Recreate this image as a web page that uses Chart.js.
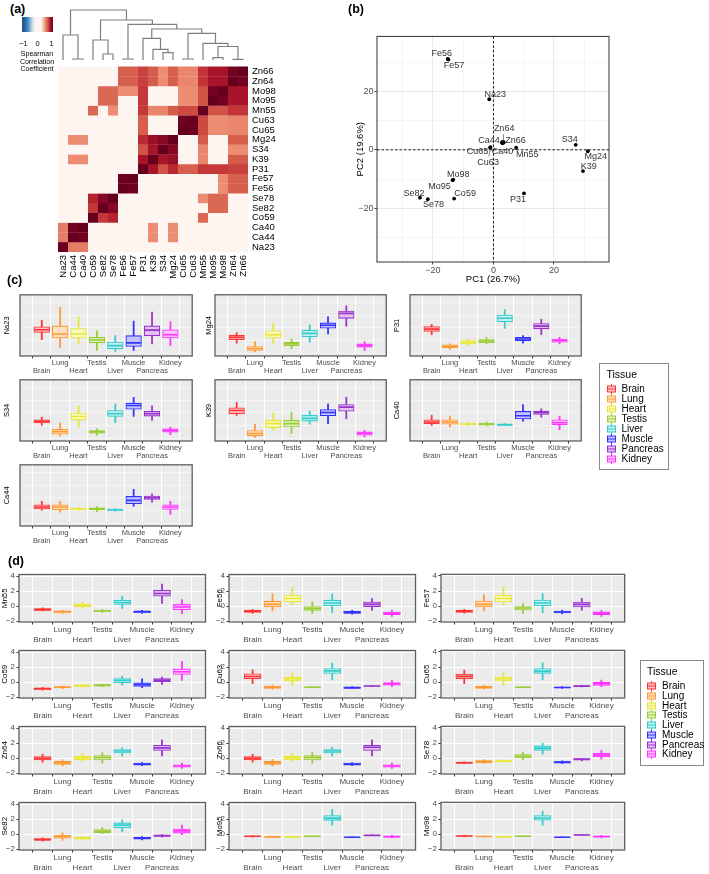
<!DOCTYPE html>
<html>
<head>
<meta charset="utf-8">
<title>Element correlations, PCA and tissue profiles</title>
<script src="https://cdn.jsdelivr.net/npm/chart.js@4.4.1/dist/chart.umd.min.js"></script>
<style>
  html, body { margin: 0; padding: 0; background: #fff; }
  #wrap { position: relative; width: 709px; height: 874px; overflow: hidden; font-family: "Liberation Sans", Arial, sans-serif; color: #000; }
  #wrap canvas { position: absolute; }
  .tag { position: absolute; font-weight: bold; font-size: 12.5px; line-height: 1; }
  .txt { position: absolute; white-space: nowrap; line-height: 1; transform: translate(-50%, -50%); }
  .scalebar { position: absolute; left: 22px; top: 17px; width: 31px; height: 15px;
    background: linear-gradient(to right, #1F4E8C 0%, #2E6BAA 12%, #5A9BCB 22%, #BCD8EA 32%, #FDF5F2 42%, #FFF5F0 62%, #F2A98E 72%, #D6604D 82%, #A3142E 92%, #67001F 100%); }
  .legend { position: absolute; border: 1.3px solid #8a8a8a; box-sizing: border-box; background: #fff; }
  .legend .row { position: absolute; white-space: nowrap; line-height: 1; transform: translateY(-50%); }
  .legend svg { position: absolute; }
</style>
</head>
<body>
<div id="wrap">
  <div class="tag" style="left:10px;top:3px">(a)</div>
  <div class="tag" style="left:348px;top:3px">(b)</div>
  <div class="tag" style="left:7px;top:274px">(c)</div>
  <div class="tag" style="left:8px;top:555px">(d)</div>
  <div class="scalebar"></div>
  <div class="txt" style="left:23.5px;top:44px;font-size:7.5px">&minus;1</div>
  <div class="txt" style="left:37.5px;top:44px;font-size:7.5px">0</div>
  <div class="txt" style="left:51.5px;top:44px;font-size:7.5px">1</div>
  <div class="txt" style="left:37px;top:53px;font-size:7px">Spearman</div>
  <div class="txt" style="left:37px;top:60.5px;font-size:7px">Correlation</div>
  <div class="txt" style="left:37px;top:68px;font-size:7px">Coefficient</div>
</div>
<script>
// ---------- data ----------
const elements = ['Na23','Ca44','Ca40','Co59','Se82','Se78','Fe56','Fe57','P31','K39','S34','Mg24','Cu65','Cu63','Mn55','Mo95','Mo98','Zn64','Zn66'];

// Spearman correlations (non-significant shown as 0), rows/cols in element order
const corr = [
  [1,.55,.55,0,0,0,0,0,0,0,0,0,0,0,0,0,0,0,0],
  [.55,1,.97,0,0,0,0,0,0,.5,0,.5,0,0,0,0,0,0,0],
  [.55,.97,1,0,0,0,0,0,0,.5,0,.5,0,0,0,0,0,0,0],
  [0,0,0,1,.74,.8,0,0,0,0,0,0,0,0,.62,0,0,0,0],
  [0,0,0,.74,1,.92,0,0,0,0,0,0,0,0,0,.62,.62,0,0],
  [0,0,0,.8,.92,1,0,0,0,0,0,0,0,0,.5,.62,.62,0,0],
  [0,0,0,0,0,0,1,.98,0,0,0,0,0,0,0,0,.5,.65,.65],
  [0,0,0,0,0,0,.98,1,0,0,0,0,0,0,0,0,.5,.65,.65],
  [0,0,0,0,0,0,0,0,1,.85,.68,.78,.65,.65,.74,.74,.74,.72,.72],
  [0,.5,.5,0,0,0,0,0,.85,1,.85,.88,0,0,.52,0,0,.66,.66],
  [0,0,0,0,0,0,0,0,.68,.85,1,.92,0,0,.52,0,0,.5,.5],
  [0,.5,.5,0,0,0,0,0,.78,.88,.92,1,0,0,.66,0,0,.65,.65],
  [0,0,0,0,0,0,0,0,.65,0,0,0,1,.98,.7,.5,.5,.52,.52],
  [0,0,0,0,0,0,0,0,.65,0,0,0,.98,1,.7,.5,.5,.52,.52],
  [0,0,0,.62,0,.5,0,0,.74,.52,.52,.66,.7,.7,1,.68,.68,.75,.75],
  [0,0,0,0,.62,.62,0,0,.74,0,0,0,.5,.5,.68,1,.97,.85,.85],
  [0,0,0,0,.62,.62,.5,.5,.74,0,0,0,.5,.5,.68,.97,1,.85,.85],
  [0,0,0,0,0,0,.65,.65,.72,.66,.5,.65,.52,.52,.75,.85,.85,1,.97],
  [0,0,0,0,0,0,.65,.65,.72,.66,.5,.65,.52,.52,.75,.85,.85,.97,1]
];

// dendrogram merges, hclust style: negative = leaf (-(index+1)), positive = earlier merge; last = height
const merges = [
  [-2,-3,0.02],[-1,1,0.50],[-5,-6,0.12],[-4,3,0.40],[-7,-8,0.02],
  [-11,-12,0.147],[-10,6,0.213],[-9,7,0.433],[-13,-14,0.02],[-16,-17,0.047],
  [-18,-19,0.013],[10,11,0.27],[-15,12,0.333],[9,13,0.533],[8,14,0.62],
  [5,15,0.713],[4,16,0.80],[2,17,1.0]
];

// PCA scores
const pcaNames = ['Na23','Ca44','Ca40','Co59','Se82','Se78','Fe56','Fe57','P31','K39','S34','Mg24','Cu65','Cu63','Mn55','Mo95','Mo98','Zn64','Zn66'];
const pc1 = [-1.4, 2.8, 3.0, -13.0, -24.3, -21.7, -15.1, -14.9, 10.1, 29.6, 27.2, 31.2, -1.0, -1.1, 7.5, -13.5, -13.3, 3.2, 3.4];
const pc2 = [17.3, 2.5, 2.2, -16.7, -16.4, -16.9, 31.1, 30.9, -14.9, -7.3, 1.7, -0.5, 0.9, 0.7, 0.7, -10.4, -10.2, 2.8, 2.5];

// box statistics per tissue: [lower whisker, Q1, median, Q3, upper whisker]
const tissues = ['Brain','Lung','Heart','Testis','Liver','Muscle','Pancreas','Kidney'];
const Na23 = [[-0.41,0.15,0.36,0.59,1.09],[-1.04,-0.28,0.03,0.66,2.1],[-0.74,-0.28,0.03,0.46,1.35],[-1.25,-0.66,-0.43,-0.23,0.28],[-1.32,-1.12,-0.87,-0.59,-0.1],[-1.25,-0.94,-0.66,-0.1,1.04],[-0.74,-0.1,0.33,0.66,1.73],[-0.87,-0.28,-0.03,0.36,1.0]];
const Mg24 = [[-0.69,-0.41,-0.23,-0.08,0.15],[-1.37,-1.25,-1.12,-0.94,-0.56],[-0.69,-0.28,-0.03,0.28,0.87],[-1.12,-0.89,-0.74,-0.61,-0.36],[-0.61,-0.18,0.08,0.33,0.74],[0.03,0.48,0.71,0.89,1.37],[0.64,1.25,1.63,1.81,2.21],[-1.25,-0.99,-0.87,-0.74,-0.56]];
const P31 = [[-0.03,0.23,0.41,0.61,0.79],[-1.17,-1.04,-0.92,-0.81,-0.74],[-0.89,-0.74,-0.61,-0.48,-0.36],[-0.74,-0.64,-0.51,-0.41,-0.23],[0.46,0.99,1.25,1.5,1.93],[-0.69,-0.48,-0.36,-0.23,-0.1],[-0.03,0.43,0.64,0.84,1.17],[-0.74,-0.61,-0.48,-0.36,-0.23]];
const S34 = [[-0.46,-0.28,-0.15,-0.03,0.18],[-1.31,-1.15,-0.95,-0.77,-0.28],[-0.59,-0.03,0.23,0.49,1.08],[-1.23,-1.08,-0.97,-0.87,-0.72],[-0.26,0.23,0.44,0.69,1.21],[0.23,0.79,1.08,1.26,1.72],[-0.08,0.26,0.44,0.62,1.05],[-1.18,-1.0,-0.87,-0.74,-0.59]];
const K39 = [[0.31,0.44,0.69,0.9,1.33],[-1.41,-1.28,-1.1,-0.87,-0.38],[-0.85,-0.64,-0.33,-0.08,0.49],[-1.1,-0.59,-0.33,-0.08,0.54],[-0.38,-0.13,0.08,0.31,0.64],[-0.33,0.28,0.54,0.77,1.21],[0.05,0.64,0.95,1.15,1.72],[-1.36,-1.23,-1.1,-0.97,-0.85]];
const Ca40 = [[-0.46,-0.33,-0.2,-0.03,0.31],[-0.59,-0.38,-0.2,-0.03,0.26],[-0.46,-0.41,-0.36,-0.28,-0.2],[-0.51,-0.44,-0.36,-0.28,-0.2],[-0.49,-0.46,-0.41,-0.38,-0.33],[-0.13,0.03,0.28,0.62,1.15],[0.18,0.38,0.51,0.64,0.82],[-0.79,-0.41,-0.26,-0.03,0.23]];
const Ca44 = [[-0.47,-0.36,-0.2,-0.03,0.23],[-0.6,-0.42,-0.2,-0.03,0.23],[-0.47,-0.42,-0.34,-0.3,-0.2],[-0.57,-0.42,-0.34,-0.26,-0.16],[-0.52,-0.49,-0.42,-0.36,-0.34],[-0.16,0.05,0.31,0.62,1.17],[0.18,0.39,0.52,0.65,0.83],[-0.78,-0.39,-0.2,-0.03,0.23]];
const Mn55 = [[-0.66,-0.57,-0.48,-0.35,-0.22],[-0.97,-0.88,-0.75,-0.66,-0.57],[-0.31,-0.13,0.09,0.31,0.53],[-0.84,-0.75,-0.66,-0.53,-0.44],[-0.31,0.22,0.48,0.79,1.32],[-0.97,-0.88,-0.75,-0.66,-0.57],[0.35,1.32,1.67,2.11,2.95],[-1.01,-0.48,-0.13,0.22,0.88]];
const Fe56 = [[-0.97,-0.84,-0.7,-0.57,-0.44],[-0.66,-0.13,0.22,0.66,1.63],[0.13,0.57,1.01,1.45,2.55],[-0.97,-0.57,-0.31,0,0.53],[-0.88,0.04,0.4,0.79,1.63],[-1.1,-0.97,-0.84,-0.7,-0.57],[-0.57,-0.09,0.22,0.53,1.01],[-1.37,-1.15,-0.97,-0.79,-0.57]];
const Fe57 = [[-0.97,-0.84,-0.7,-0.57,-0.44],[-0.66,-0.13,0.22,0.66,1.54],[0.13,0.53,1.01,1.45,2.55],[-0.97,-0.53,-0.26,0,0.35],[-0.88,0.04,0.4,0.79,1.67],[-1.06,-0.93,-0.79,-0.66,-0.53],[-0.57,-0.13,0.22,0.53,1.01],[-1.37,-1.15,-0.97,-0.79,-0.57]];
const Co59 = [[-1.1,-1.01,-0.88,-0.79,-0.7],[-0.88,-0.79,-0.7,-0.62,-0.53],[-0.66,-0.57,-0.48,-0.4,-0.31],[-0.62,-0.53,-0.44,-0.35,-0.26],[-0.4,-0.09,0.22,0.48,0.79],[-0.75,-0.57,-0.31,-0.09,0.44],[-0.31,0,0.26,0.48,0.66],[0.22,1.01,1.37,1.76,2.78]];
const Cu63 = [[-0.22,0.44,0.75,1.1,1.63],[-0.97,-0.84,-0.7,-0.57,-0.4],[-0.44,0.13,0.4,0.66,1.23],[-0.75,-0.73,-0.7,-0.66,-0.62],[0.31,1.15,1.5,1.8,2.55],[-0.88,-0.84,-0.75,-0.66,-0.62],[-0.6,-0.57,-0.53,-0.49,-0.46],[-0.62,-0.4,-0.22,0,0.26]];
const Cu65 = [[-0.22,0.44,0.75,1.06,1.59],[-0.97,-0.84,-0.7,-0.57,-0.44],[-0.44,0.13,0.4,0.66,1.23],[-0.75,-0.73,-0.7,-0.66,-0.62],[0.31,1.15,1.45,1.8,2.55],[-0.84,-0.79,-0.73,-0.66,-0.62],[-0.66,-0.62,-0.55,-0.48,-0.44],[-0.62,-0.44,-0.22,-0.04,0.26]];
const Zn64 = [[-0.55,-0.26,-0.04,0.21,0.51],[-1.06,-0.85,-0.64,-0.43,-0.21],[-0.43,-0.21,0.04,0.26,0.6],[-0.68,-0.26,0.09,0.34,0.72],[0.3,0.68,0.94,1.15,1.36],[-1.02,-0.94,-0.81,-0.68,-0.6],[0.3,1.02,1.36,1.7,2.43],[-1.4,-1.23,-1.06,-0.89,-0.68]];
const Zn66 = [[-0.55,-0.26,-0.04,0.21,0.51],[-1.06,-0.85,-0.64,-0.43,-0.17],[-0.43,-0.21,0.04,0.26,0.6],[-0.68,-0.26,0.09,0.34,0.72],[0.3,0.68,0.94,1.15,1.45],[-1.02,-0.94,-0.81,-0.68,-0.6],[0.3,1.02,1.45,1.7,2.43],[-1.4,-1.23,-1.06,-0.89,-0.68]];
const Se78 = [[-0.77,-0.72,-0.64,-0.55,-0.51],[-0.72,-0.64,-0.47,-0.34,-0.21],[-0.6,-0.51,-0.43,-0.3,-0.21],[-0.26,0.04,0.26,0.47,0.72],[0.51,1.02,1.32,1.62,2.0],[-0.77,-0.68,-0.55,-0.47,-0.38],[-0.38,-0.3,-0.17,-0.09,0],[-0.17,0.13,0.38,0.64,1.02]];
const Se82 = [[-0.94,-0.85,-0.72,-0.6,-0.51],[-0.85,-0.55,-0.34,-0.13,0.17],[-0.77,-0.68,-0.55,-0.43,-0.34],[0,0.17,0.38,0.6,0.85],[0.3,0.85,1.19,1.49,1.91],[-0.77,-0.68,-0.55,-0.43,-0.34],[-0.43,-0.3,-0.21,-0.13,0],[-0.09,0.13,0.43,0.68,1.19]];
const Mo95 = [[-0.4,-0.34,-0.3,-0.26,-0.2],[-0.43,-0.4,-0.38,-0.36,-0.32],[-0.42,-0.4,-0.38,-0.36,-0.34],[-0.36,-0.34,-0.3,-0.26,-0.23],[1.19,1.83,2.13,2.47,3.3],[-0.47,-0.45,-0.43,-0.4,-0.38],[-0.23,-0.2,-0.17,-0.13,-0.1],[-0.51,-0.43,-0.34,-0.26,-0.17]];
const Mo98 = [[-0.36,-0.32,-0.26,-0.2,-0.15],[-0.4,-0.36,-0.34,-0.3,-0.28],[-0.42,-0.4,-0.38,-0.36,-0.34],[-0.36,-0.34,-0.3,-0.26,-0.23],[1.19,1.83,2.13,2.47,3.06],[-0.47,-0.45,-0.43,-0.4,-0.38],[-0.2,-0.17,-0.13,-0.09,-0.06],[-0.51,-0.43,-0.34,-0.26,-0.17]];

// ---------- styles / layout ----------
const FONT = '"Liberation Sans", Arial, sans-serif';
Chart.defaults.font.family = FONT;
Chart.defaults.color = '#4D4D4D';

const tissueColors = ['#FF3333','#FF9933','#E6E633','#99CC33','#33CCCC','#3333FF','#9933CC','#FF33FF'];
const mixWhite = (hex, t) => {
  const n = parseInt(hex.slice(1), 16);
  const ch = [(n >> 16) & 255, (n >> 8) & 255, n & 255].map(c => Math.round(c + (255 - c) * t));
  return 'rgb(' + ch.join(',') + ')';
};
const tissueFills = tissueColors.map(c => mixWhite(c, 0.7));

const heatStops = [
  [-1, [33,73,140]], [-0.75, [67,147,195]], [-0.5, [200,225,240]], [0, [255,245,240]],
  [0.5, [236,140,114]], [0.65, [214,96,77]], [0.75, [195,52,56]], [0.85, [168,20,42]],
  [0.92, [135,8,36]], [1, [103,0,31]]
];
function heatColor(v) {
  for (let i = 1; i < heatStops.length; i++) {
    const [v1, c1] = heatStops[i];
    const [v0, c0] = heatStops[i - 1];
    if (v <= v1) {
      const t = (v - v0) / (v1 - v0);
      return 'rgb(' + c0.map((c, k) => Math.round(c + (c1[k] - c) * t)).join(',') + ')';
    }
  }
  return 'rgb(103,0,31)';
}
const minus = v => (v < 0 ? '\u2212' + Math.abs(v) : String(v));

const wrap = document.getElementById('wrap');
function makeCanvas(left, top, w, h) {
  const c = document.createElement('canvas');
  c.width = Math.round(w); c.height = Math.round(h);
  c.style.left = left + 'px'; c.style.top = top + 'px';
  c.style.width = c.width + 'px'; c.style.height = c.height + 'px';
  wrap.insertBefore(c, wrap.firstChild);
  return c;
}

const panelPlugin = {
  id: 'panel',
  beforeDraw(chart, args, opts) {
    if (!opts.bg) return;
    const { ctx, chartArea: a } = chart;
    ctx.save(); ctx.fillStyle = opts.bg; ctx.fillRect(a.left, a.top, a.width, a.height); ctx.restore();
  },
  afterDraw(chart, args, opts) {
    if (!opts.border) return;
    const { ctx, chartArea: a } = chart;
    ctx.save(); ctx.strokeStyle = opts.border; ctx.lineWidth = opts.borderWidth || 1;
    ctx.strokeRect(a.left, a.top, a.width, a.height); ctx.restore();
  }
};

// ---------- (a) heatmap ----------
(function () {
  const rowsTop = elements.slice().reverse();
  const cells = [];
  elements.forEach((rowEl, r) => elements.forEach((colEl, c) => cells.push({ x: colEl, y: rowEl, v: corr[r][c] })));
  const canvas = makeCanvas(53, 57, 235, 235);
  new Chart(canvas, {
    type: 'scatter',
    data: { datasets: [{
      data: cells,
      pointStyle: 'rect',
      pointRadius: ctx => ctx.chart.scales.x.width / elements.length / Math.SQRT2,
      pointBackgroundColor: ctx => heatColor(ctx.raw.v),
      pointBorderWidth: 0
    }]},
    options: {
      responsive: false, animation: false, events: [],
      layout: { padding: { left: 5, top: 5, right: 0, bottom: 0 } },
      plugins: { legend: { display: false }, tooltip: { enabled: false } },
      scales: {
        x: { type: 'category', labels: elements, offset: true,
             grid: { display: false, drawTicks: false }, border: { display: false },
             ticks: { minRotation: 90, maxRotation: 90, autoSkip: false, padding: 3, color: '#000', font: { size: 9.5 } },
             afterFit: s => { s.height = 40; } },
        y: { type: 'category', labels: rowsTop, offset: true, position: 'right',
             grid: { display: false, drawTicks: false }, border: { display: false },
             ticks: { autoSkip: false, padding: 4, color: '#000', font: { size: 9.5 } },
             afterFit: s => { s.width = 40; } }
      }
    }
  });
})();

// ---------- (a) dendrogram ----------
(function () {
  const nodes = [];
  const pos = id => (id < 0 ? { x: -id - 1, h: 0 } : nodes[id - 1]);
  const sets = merges.map(([a, b, h]) => {
    const A = pos(a), B = pos(b);
    nodes.push({ x: (A.x + B.x) / 2, h: h });
    return {
      data: [{ x: A.x, y: A.h }, { x: A.x, y: h }, { x: B.x, y: h }, { x: B.x, y: B.h }],
      showLine: true, borderColor: '#7f7f7f', borderWidth: 1.2, pointRadius: 0, clip: 3
    };
  });
  const canvas = makeCanvas(53, 5, 235, 55);
  new Chart(canvas, {
    type: 'scatter',
    data: { datasets: sets },
    options: {
      responsive: false, animation: false, events: [],
      layout: { padding: { left: 5, top: 5, right: 40, bottom: 0 } },
      plugins: { legend: { display: false }, tooltip: { enabled: false } },
      scales: {
        x: { display: false, min: -0.5, max: elements.length - 0.5 },
        y: { display: false, min: 0, max: 1 }
      }
    }
  });
})();

// ---------- (b) PCA ----------
const labelOffsets = [[6,-5],[-13,-2.4],[0,8.5],[11,-5],[-6,-4.6],[5.7,5.3],[-6,-5],[5.6,6.3],[-6,6.3],[5.7,-4.6],[-6,-5],[8,5],[-13,4],[-2,14.6],[11,7],[-13,6],[5,-5],[1,-12.8],[11.7,-2.3]];
const leaderLines = ['Zn64', 'Cu63'];
(function () {
  const pcaPlugin = {
    id: 'pcaLabels',
    beforeDatasetsDraw(chart) {
      const { ctx, chartArea: a, scales: { x, y } } = chart;
      ctx.save(); ctx.strokeStyle = '#000'; ctx.lineWidth = 0.9; ctx.setLineDash([2.5, 2]);
      const x0 = x.getPixelForValue(0), y0 = y.getPixelForValue(0);
      ctx.beginPath(); ctx.moveTo(x0, a.top); ctx.lineTo(x0, a.bottom);
      ctx.moveTo(a.left, y0); ctx.lineTo(a.right, y0); ctx.stroke(); ctx.restore();
    },
    afterDatasetsDraw(chart) {
      const ctx = chart.ctx; const meta = chart.getDatasetMeta(0);
      ctx.save(); ctx.font = '9px ' + FONT; ctx.fillStyle = '#333'; ctx.textAlign = 'center'; ctx.textBaseline = 'middle';
      meta.data.forEach((pt, i) => {
        const [dx, dy] = labelOffsets[i];
        if (leaderLines.includes(pcaNames[i])) {
          ctx.strokeStyle = '#555'; ctx.lineWidth = 0.7; ctx.beginPath();
          ctx.moveTo(pt.x, pt.y); ctx.lineTo(pt.x + dx * 0.6, pt.y + dy * 0.6); ctx.stroke();
        }
        ctx.fillText(pcaNames[i], pt.x + dx, pt.y + dy);
      });
      ctx.restore();
    }
  };
  const major = v => Math.abs(v % 20) < 1e-6;
  const axis = (min, max, title, isX) => ({
    min, max,
    ticks: { stepSize: 10, includeBounds: false, padding: 1, font: { size: 9 }, color: '#4D4D4D',
             callback: v => (major(v) ? minus(v) : '') },
    grid: { color: '#E8E8E8', lineWidth: ctx => (major(ctx.tick.value) ? 0.9 : 0.45),
            tickColor: ctx => (major(ctx.tick.value) ? '#333' : 'rgba(0,0,0,0)'), tickLength: 2.5 },
    border: { display: false },
    title: { display: true, text: title, color: '#000', font: { size: 9.5 }, padding: isX ? { top: 0, bottom: 2 } : { top: 1, bottom: 0 } },
    afterFit: isX ? (s => { s.height = 25; }) : (s => { s.width = 23; })
  });
  const canvas = makeCanvas(354, 30, 267, 257);
  new Chart(canvas, {
    type: 'scatter',
    data: { datasets: [{ data: pc1.map((v, i) => ({ x: v, y: pc2[i] })), pointRadius: 1.9, pointBackgroundColor: '#000', pointBorderWidth: 0 }] },
    options: {
      responsive: false, animation: false, events: [],
      layout: { padding: { left: 0, top: 5, right: 12, bottom: 0 } },
      plugins: { legend: { display: false }, tooltip: { enabled: false }, panel: { bg: '#fff', border: '#333', borderWidth: 1 } },
      scales: { x: axis(-38.5, 38.2, 'PC1 (26.7%)', true), y: axis(-38.4, 38.8, 'PC2 (19.6%)', false) }
    },
    plugins: [panelPlugin, pcaPlugin]
  });
})();

// ---------- (c)/(d) box plot facets ----------
const X_EXPAND = 0.6;
function boxFacet(name, stats, rect, titleX, cfg) {
  const lh = cfg.font * 1.2;
  const left = Math.round(titleX - lh / 2);
  const yAxisW = rect.x - left;
  const padTop = 8, padRight = 8;
  const canvas = makeCanvas(left, rect.y - padTop, yAxisW + rect.w + padRight, padTop + rect.h + cfg.xAxisH);
  const slot = rect.w / (tissues.length - 1 + 2 * X_EXPAND);
  const boxW = slot * 0.74;
  const isMajor = v => Math.abs(v / cfg.major - Math.round(v / cfg.major)) < 1e-6;
  new Chart(canvas, {
    type: 'bar',
    data: { datasets: [
      { type: 'scatter', data: stats.map((s, i) => ({ x: i, y: s[2] })), pointStyle: 'line',
        pointRadius: boxW / 2 - 0.6, pointBorderColor: tissueColors, pointBackgroundColor: tissueColors, pointBorderWidth: 1.6 },
      { type: 'bar', data: stats.map((s, i) => ({ x: i, y: [s[1], s[3]] })), backgroundColor: tissueFills,
        borderColor: tissueColors, borderWidth: 1.1, borderSkipped: false, barThickness: boxW, grouped: false },
      { type: 'bar', data: stats.map((s, i) => ({ x: i, y: [s[0], s[4]] })), backgroundColor: tissueColors,
        borderWidth: 0, barThickness: 1.1, grouped: false }
    ]},
    options: {
      responsive: false, animation: false, events: [],
      layout: { padding: { left: 0, top: padTop, right: padRight, bottom: 0 } },
      plugins: { legend: { display: false }, tooltip: { enabled: false }, panel: { bg: '#EBEBEB', border: '#5f5f5f', borderWidth: 1.3 } },
      scales: {
        x: { type: 'linear', min: -X_EXPAND, max: tissues.length - 1 + X_EXPAND,
             afterBuildTicks: s => { s.ticks = tissues.map((t, i) => ({ value: i })); },
             ticks: { autoSkip: false, maxRotation: 0, padding: cfg.xPad, color: '#4D4D4D',
                      font: { size: cfg.font, lineHeight: cfg.lineH },
                      callback: v => (v % 2 === 0 ? ['', tissues[v]] : [tissues[v], '']) },
             grid: { color: '#fff', lineWidth: 1, tickColor: '#333', tickLength: 2.5 },
             border: { display: false },
             afterFit: s => { s.height = cfg.xAxisH; } },
        y: { min: cfg.ymin, max: cfg.ymax,
             ticks: { stepSize: cfg.minor, includeBounds: false, padding: 1.5, color: '#4D4D4D', font: { size: cfg.font },
                      callback: v => (isMajor(v) ? minus(v) : '') },
             grid: { color: '#fff', lineWidth: ctx => (isMajor(ctx.tick.value) ? 1 : 0.5),
                     tickColor: ctx => (isMajor(ctx.tick.value) ? '#333' : 'rgba(0,0,0,0)'), tickLength: 2.5 },
             border: { display: false },
             title: { display: true, text: name, color: '#000', font: { size: cfg.font }, padding: { top: 0, bottom: 0 } },
             afterFit: s => { s.width = yAxisW; } }
      }
    },
    plugins: [panelPlugin]
  });
}

const cCfg = { ymin: -1.68, ymax: 3.08, major: 1, minor: 0.5, font: 7.5, lineH: 1.1, xPad: 0, xAxisH: 22 };
const dCfg = { ymin: -2.13, ymax: 4.22, major: 2, minor: 1, font: 8, lineH: 1.15, xPad: 1, xAxisH: 24 };
const cRowTops = [294, 379, 464];
const cCols = [{ x: 20, w: 173, t: 6.7 }, { x: 215, w: 172, t: 208 }, { x: 410, w: 172, t: 396.7 }];
const dRowTops = [573, 649, 725, 801];
const dCols = [{ x: 19, w: 188, t: 5 }, { x: 229, w: 188, t: 220 }, { x: 441, w: 185, t: 426.7 }];

const panelsC = [['Na23', Na23], ['Mg24', Mg24], ['P31', P31], ['S34', S34], ['K39', K39], ['Ca40', Ca40], ['Ca44', Ca44]];
const panelsD = [['Mn55', Mn55], ['Fe56', Fe56], ['Fe57', Fe57], ['Co59', Co59], ['Cu63', Cu63], ['Cu65', Cu65],
                 ['Zn64', Zn64], ['Zn66', Zn66], ['Se78', Se78], ['Se82', Se82], ['Mo95', Mo95], ['Mo98', Mo98]];

panelsC.forEach(([name, stats], k) => {
  const col = cCols[k % 3];
  boxFacet(name, stats, { x: col.x, y: cRowTops[Math.floor(k / 3)], w: col.w, h: 62 }, col.t, cCfg);
});
panelsD.forEach(([name, stats], k) => {
  const col = dCols[k % 3];
  boxFacet(name, stats, { x: col.x, y: dRowTops[Math.floor(k / 3)], w: col.w, h: 49 }, col.t, dCfg);
});

// ---------- tissue legends ----------
function tissueLegend(box, titleY, firstY, step, iconX, textX) {
  const el = document.createElement('div');
  el.className = 'legend';
  el.style.left = box.x + 'px'; el.style.top = box.y + 'px';
  el.style.width = box.w + 'px'; el.style.height = box.h + 'px';
  let html = '<div class="row" style="left:' + (textX - 15) + 'px;top:' + titleY + 'px;font-size:10.5px">Tissue</div>';
  tissues.forEach((t, i) => {
    const y = firstY + step * i, c = tissueColors[i], f = tissueFills[i];
    html += '<svg width="9" height="10" style="left:' + (iconX - 4.5) + 'px;top:' + (y - 5) + 'px">' +
      '<line x1="4.5" y1="0" x2="4.5" y2="2" stroke="' + c + '"/>' +
      '<rect x="0.5" y="2" width="8" height="6" fill="' + f + '" stroke="' + c + '"/>' +
      '<line x1="0.5" y1="5" x2="8.5" y2="5" stroke="' + c + '"/>' +
      '<line x1="4.5" y1="8" x2="4.5" y2="10" stroke="' + c + '"/></svg>';
    html += '<div class="row" style="left:' + textX + 'px;top:' + y + 'px;font-size:10px">' + t + '</div>';
  });
  el.innerHTML = html;
  wrap.appendChild(el);
}
tissueLegend({ x: 599, y: 363, w: 70, h: 107 }, 10, 24.5, 10, 11, 21.5);
tissueLegend({ x: 640, y: 660, w: 64, h: 106 }, 10, 25, 9.76, 10, 21);
</script>
</body>
</html>
